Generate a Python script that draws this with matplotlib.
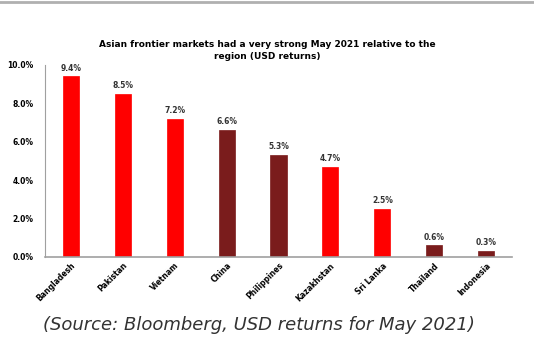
import matplotlib.pyplot as plt
from matplotlib.ticker import FuncFormatter

# data
countries = ["Bangladesh", "Pakistan", "Vietnam", "China", "Philippines",
             "Kazakhstan", "Sri Lanka", "Thailand", "Indonesia"]
returns = [9.4, 8.5, 7.2, 6.6, 5.3, 4.7, 2.5, 0.6, 0.3]
frontier = [True, True, True, False, False, True, True, False, False]

RED = "#ff0000"
DARK = "#7a1c1c"
colors = [RED if f else DARK for f in frontier]

fig = plt.figure(figsize=(5.34, 3.51), dpi=100)
ax = fig.add_axes([0.084, 0.268, 0.875, 0.547])

ax.bar(countries, returns, width=0.31, color=colors, edgecolor=colors, linewidth=0.5)
for i, v in enumerate(returns):
    ax.text(i, v + 0.2, f"{v:.1f}%", ha="center", va="bottom",
            fontsize=5.5, fontweight="bold", color="#333333")

ax.set_ylim(0, 10)
ax.set_xlim(-0.5, len(countries) - 0.5)
ax.set_yticks([0, 2, 4, 6, 8, 10])
ax.yaxis.set_major_formatter(FuncFormatter(lambda y, _: f"{y:.1f}%"))
ax.tick_params(axis="y", labelsize=5.5, length=0, pad=8)
ax.tick_params(axis="x", labelsize=5.5, length=0, pad=3)
for lbl in ax.get_yticklabels():
    lbl.set_fontweight("bold")
plt.setp(ax.get_xticklabels(), rotation=45, ha="right", rotation_mode="anchor",
         fontweight="bold")

for s in ["top", "right"]:
    ax.spines[s].set_visible(False)
ax.spines["left"].set_color("#a0a0a0")
ax.spines["bottom"].set_color("#a0a0a0")
ax.spines["bottom"].set_linewidth(1.2)

fig.text(0.5, 0.855, "Asian frontier markets had a very strong May 2021 relative to the\nregion (USD returns)",
         ha="center", va="center", fontsize=6.5, fontweight="bold", linespacing=1.4)
fig.text(0.484, 0.073, "(Source: Bloomberg, USD returns for May 2021)",
         ha="center", va="center", fontsize=13, style="italic", color="#333333")

# thin gray frame line at top
fig.add_artist(plt.Line2D([0, 1], [0.995, 0.995], transform=fig.transFigure,
                          color="#b0b0b0", linewidth=2))

plt.savefig("out.png", dpi=100)
